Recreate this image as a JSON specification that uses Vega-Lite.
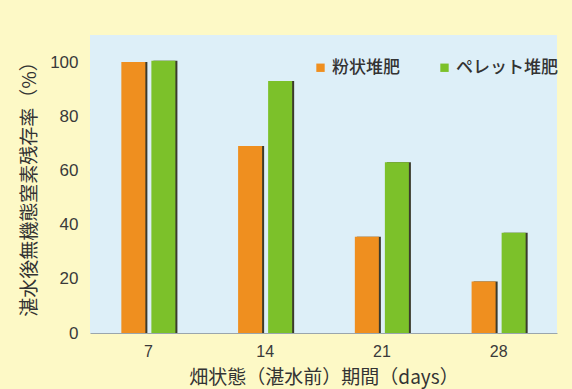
{
  "$schema": "https://vega.github.io/schema/vega-lite/v6.json",
  "width": 467,
  "height": 298,
  "autosize": {"type": "none"},
  "padding": {"left": 90, "top": 35, "right": 15, "bottom": 56},
  "background": "#FDF9C6",
  "config": {
    "font": "Liberation Sans",
    "view": {"fill": "#DDEFF8", "stroke": null}
  },
  "data": {
    "values": [
      {"days": "7", "type": "粉状堆肥", "rate": 100},
      {"days": "7", "type": "ペレット堆肥", "rate": 100.5},
      {"days": "14", "type": "粉状堆肥", "rate": 69},
      {"days": "14", "type": "ペレット堆肥", "rate": 93},
      {"days": "21", "type": "粉状堆肥", "rate": 35.5},
      {"days": "21", "type": "ペレット堆肥", "rate": 63},
      {"days": "28", "type": "粉状堆肥", "rate": 19},
      {"days": "28", "type": "ペレット堆肥", "rate": 37}
    ]
  },
  "encoding": {
    "y": {
      "field": "rate", "type": "quantitative",
      "scale": {"domain": [0, 110], "nice": false},
      "axis": {
        "values": [0, 20, 40, 60, 80, 100],
        "title": "湛水後無機態窒素残存率（%）",
        "titleFont": "Noto Sans CJK JP", "titleFontSize": 19, "titleFontWeight": "normal",
        "titleColor": "#333333", "titlePadding": 10,
        "labelFontSize": 17, "labelColor": "#3a3a3a", "labelPadding": 12,
        "tickSize": 0, "domain": false, "grid": false
      }
    }
  },
  "resolve": {"scale": {"x": "independent"}},
  "layer": [
    {
      "mark": {"type": "bar", "color": "#3b3a2c"},
      "encoding": {
        "x": {
          "field": "days", "type": "nominal", "sort": ["7", "14", "21", "28"],
          "scale": {"paddingInner": 0.537, "paddingOuter": 0.2685, "range": [2, 469]},
          "axis": null
        },
        "xOffset": {
          "field": "type", "type": "nominal", "sort": ["粉状堆肥", "ペレット堆肥"],
          "scale": {"paddingInner": 0.2}
        }
      }
    },
    {
      "mark": {"type": "bar"},
      "encoding": {
        "x": {
          "field": "days", "type": "nominal", "sort": ["7", "14", "21", "28"],
          "scale": {"paddingInner": 0.537, "paddingOuter": 0.2685},
          "axis": {
            "title": "畑状態（湛水前）期間（days）",
            "titleFont": "Noto Sans CJK JP", "titleFontSize": 19, "titleFontWeight": "normal",
            "titleColor": "#333333", "titlePadding": 9,
            "labelAngle": 0, "labelFontSize": 16, "labelColor": "#3a3a3a", "labelPadding": 10,
            "tickSize": 0, "domainColor": "#9aa6ad", "domainWidth": 1
          }
        },
        "xOffset": {
          "field": "type", "type": "nominal", "sort": ["粉状堆肥", "ペレット堆肥"],
          "scale": {"paddingInner": 0.2}
        },
        "color": {
          "field": "type", "type": "nominal",
          "scale": {"domain": ["粉状堆肥", "ペレット堆肥"], "range": ["#EF8F1F", "#7CC12A"]},
          "legend": {
            "title": null, "orient": "none", "direction": "horizontal",
            "legendX": 222, "legendY": 24,
            "symbolType": "square", "symbolSize": 70, "symbolStrokeWidth": 0,
            "labelFont": "Noto Sans CJK JP", "labelFontSize": 17, "labelFontWeight": 500,
            "labelColor": "#333333", "labelOffset": 3, "columnPadding": 36
          }
        }
      }
    }
  ]
}
